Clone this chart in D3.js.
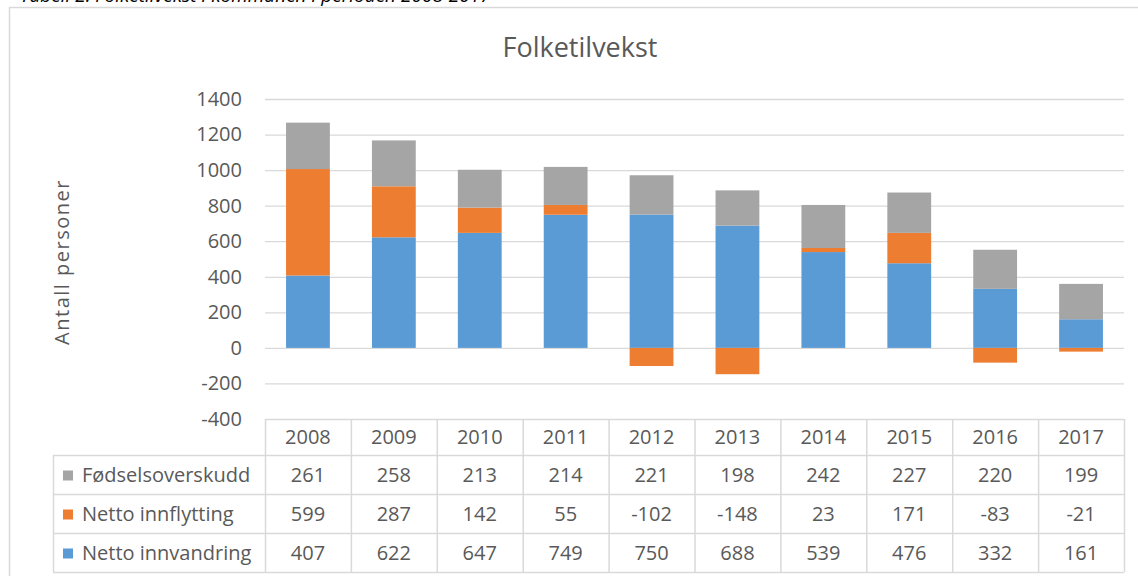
<!DOCTYPE html>
<html>
<head>
<meta charset="utf-8">
<script src="https://cdn.jsdelivr.net/npm/d3@7"></script>
<style>
  body { margin: 0; background: #fff; }
  svg { display: block; font-family: "Open Sans", sans-serif; }
</style>
</head>
<body>
<svg width="1138" height="576"></svg>
<script>
// data
const years = ["2008","2009","2010","2011","2012","2013","2014","2015","2016","2017"];
const fodsel = [261, 258, 213, 214, 221, 198, 242, 227, 220, 199];
const innflytting = [599, 287, 142, 55, -102, -148, 23, 171, -83, -21];
const innvandring = [407, 622, 647, 749, 750, 688, 539, 476, 332, 161];
const yTicks = [-400, -200, 0, 200, 400, 600, 800, 1000, 1200, 1400];

const series = [
  { key: "innvandring", name: "Netto innvandring", color: "#5b9bd5", values: innvandring },
  { key: "innflytting", name: "Netto innflytting", color: "#ed7d31", values: innflytting },
  { key: "fodsel", name: "Fødselsoverskudd", color: "#a5a5a5", values: fodsel }
];

const rows = years.map((y, i) => {
  const r = { year: y };
  series.forEach(s => r[s.key] = s.values[i]);
  return r;
});

const svg = d3.select("svg");
const textCol = "#595959";
const gridCol = "#d9d9d9";
const fs = "20px";

// caption cut off above the frame
svg.append("text")
  .attr("x", 20).attr("y", 1.5)
  .style("font-style", "italic")
  .style("font-size", "19px")
  .attr("fill", "#000")
  .text("Tabell 2: Folketilvekst i kommunen i perioden 2008-2017");

// chart frame
svg.append("rect")
  .attr("x", 9.5).attr("y", 7.5)
  .attr("width", 1140).attr("height", 600)
  .attr("fill", "#fff")
  .attr("stroke", gridCol)
  .attr("stroke-width", 1.5);

const left = 265, right = 1124;
const y = d3.scaleLinear().domain([-400, 1400]).range([419, 99]);
const x = d3.scaleBand().domain(years).range([left, right]).paddingInner(0.49).paddingOuter(0.245);
const colX = d3.scaleBand().domain(years).range([left, right]);

// title
svg.append("text")
  .attr("x", 580).attr("y", 57)
  .attr("text-anchor", "middle")
  .attr("fill", textCol)
  .style("font-size", "27px")
  .text("Folketilvekst");

// y axis title
svg.append("text")
  .attr("transform", "translate(69,262) rotate(-90)")
  .attr("text-anchor", "middle")
  .attr("fill", textCol)
  .style("font-size", "20px")
  .style("letter-spacing", "1.5px")
  .text("Antall personer");

// grid + labels
const yAxis = svg.append("g")
  .attr("transform", `translate(${left},0)`)
  .call(d3.axisLeft(y).tickValues(yTicks).tickSize(-(right - left)).tickPadding(23).tickFormat(d => String(d)));
yAxis.select(".domain").remove();
yAxis.selectAll(".tick line").attr("stroke", gridCol).attr("stroke-width", 1.3);
yAxis.selectAll(".tick text").attr("fill", textCol).style("font-size", fs).style("font-family", "Open Sans, sans-serif");
yAxis.selectAll(".tick").filter(d => d === -400).select("line").remove();

// stacked bars
const stack = d3.stack().keys(series.map(s => s.key)).offset(d3.stackOffsetDiverging);
const stacked = stack(rows);

svg.append("g").selectAll("g")
  .data(stacked)
  .join("g")
  .attr("fill", (d, i) => series[i].color)
  .selectAll("rect")
  .data(d => d)
  .join("rect")
  .attr("x", d => x(d.data.year))
  .attr("width", x.bandwidth())
  .attr("y", d => y(Math.max(d[0], d[1])))
  .attr("height", d => Math.abs(y(d[0]) - y(d[1])));

// data table
const tTop = 419, headH = 36, rowH = 39;
const tLeft = 53;
const table = svg.append("g");
const tableRows = [series[2], series[1], series[0]];
const tBottom = tTop + headH + rowH * 3;

table.append("line").attr("x1", left).attr("x2", right).attr("y1", tTop + 0.5).attr("y2", tTop + 0.5).attr("stroke", gridCol).attr("stroke-width", 1.5);
years.forEach(yr => {
  table.append("line")
    .attr("x1", colX(yr) + 0.5).attr("x2", colX(yr) + 0.5)
    .attr("y1", tTop).attr("y2", tBottom)
    .attr("stroke", gridCol).attr("stroke-width", 1.5);
  table.append("text")
    .attr("x", colX(yr) + colX.bandwidth() / 2)
    .attr("y", tTop + headH / 2 + 7)
    .attr("text-anchor", "middle")
    .attr("fill", textCol)
    .style("font-size", fs)
    .text(yr);
});
table.append("line").attr("x1", right + 0.5).attr("x2", right + 0.5).attr("y1", tTop).attr("y2", tBottom).attr("stroke", gridCol).attr("stroke-width", 1.5);
table.append("line").attr("x1", tLeft + 0.5).attr("x2", tLeft + 0.5).attr("y1", tTop + headH).attr("y2", tBottom).attr("stroke", gridCol).attr("stroke-width", 1.5);

tableRows.forEach((s, r) => {
  const ry = tTop + headH + r * rowH;
  table.append("line").attr("x1", tLeft).attr("x2", right).attr("y1", ry + 0.5).attr("y2", ry + 0.5).attr("stroke", gridCol).attr("stroke-width", 1.5);
  table.append("rect")
    .attr("x", tLeft + 10).attr("y", ry + rowH / 2 - 4)
    .attr("width", 10).attr("height", 10)
    .attr("fill", s.color);
  table.append("text")
    .attr("x", tLeft + 29).attr("y", ry + rowH / 2 + 7)
    .attr("fill", textCol)
    .style("font-size", fs)
    .text(s.name);
  years.forEach((yr, i) => {
    table.append("text")
      .attr("x", colX(yr) + colX.bandwidth() / 2)
      .attr("y", ry + rowH / 2 + 7)
      .attr("text-anchor", "middle")
      .attr("fill", textCol)
      .style("font-size", fs)
      .text(s.values[i]);
  });
});
table.append("line").attr("x1", tLeft).attr("x2", right).attr("y1", tBottom + 0.5).attr("y2", tBottom + 0.5).attr("stroke", gridCol).attr("stroke-width", 1.5);
</script>
</body>
</html>
